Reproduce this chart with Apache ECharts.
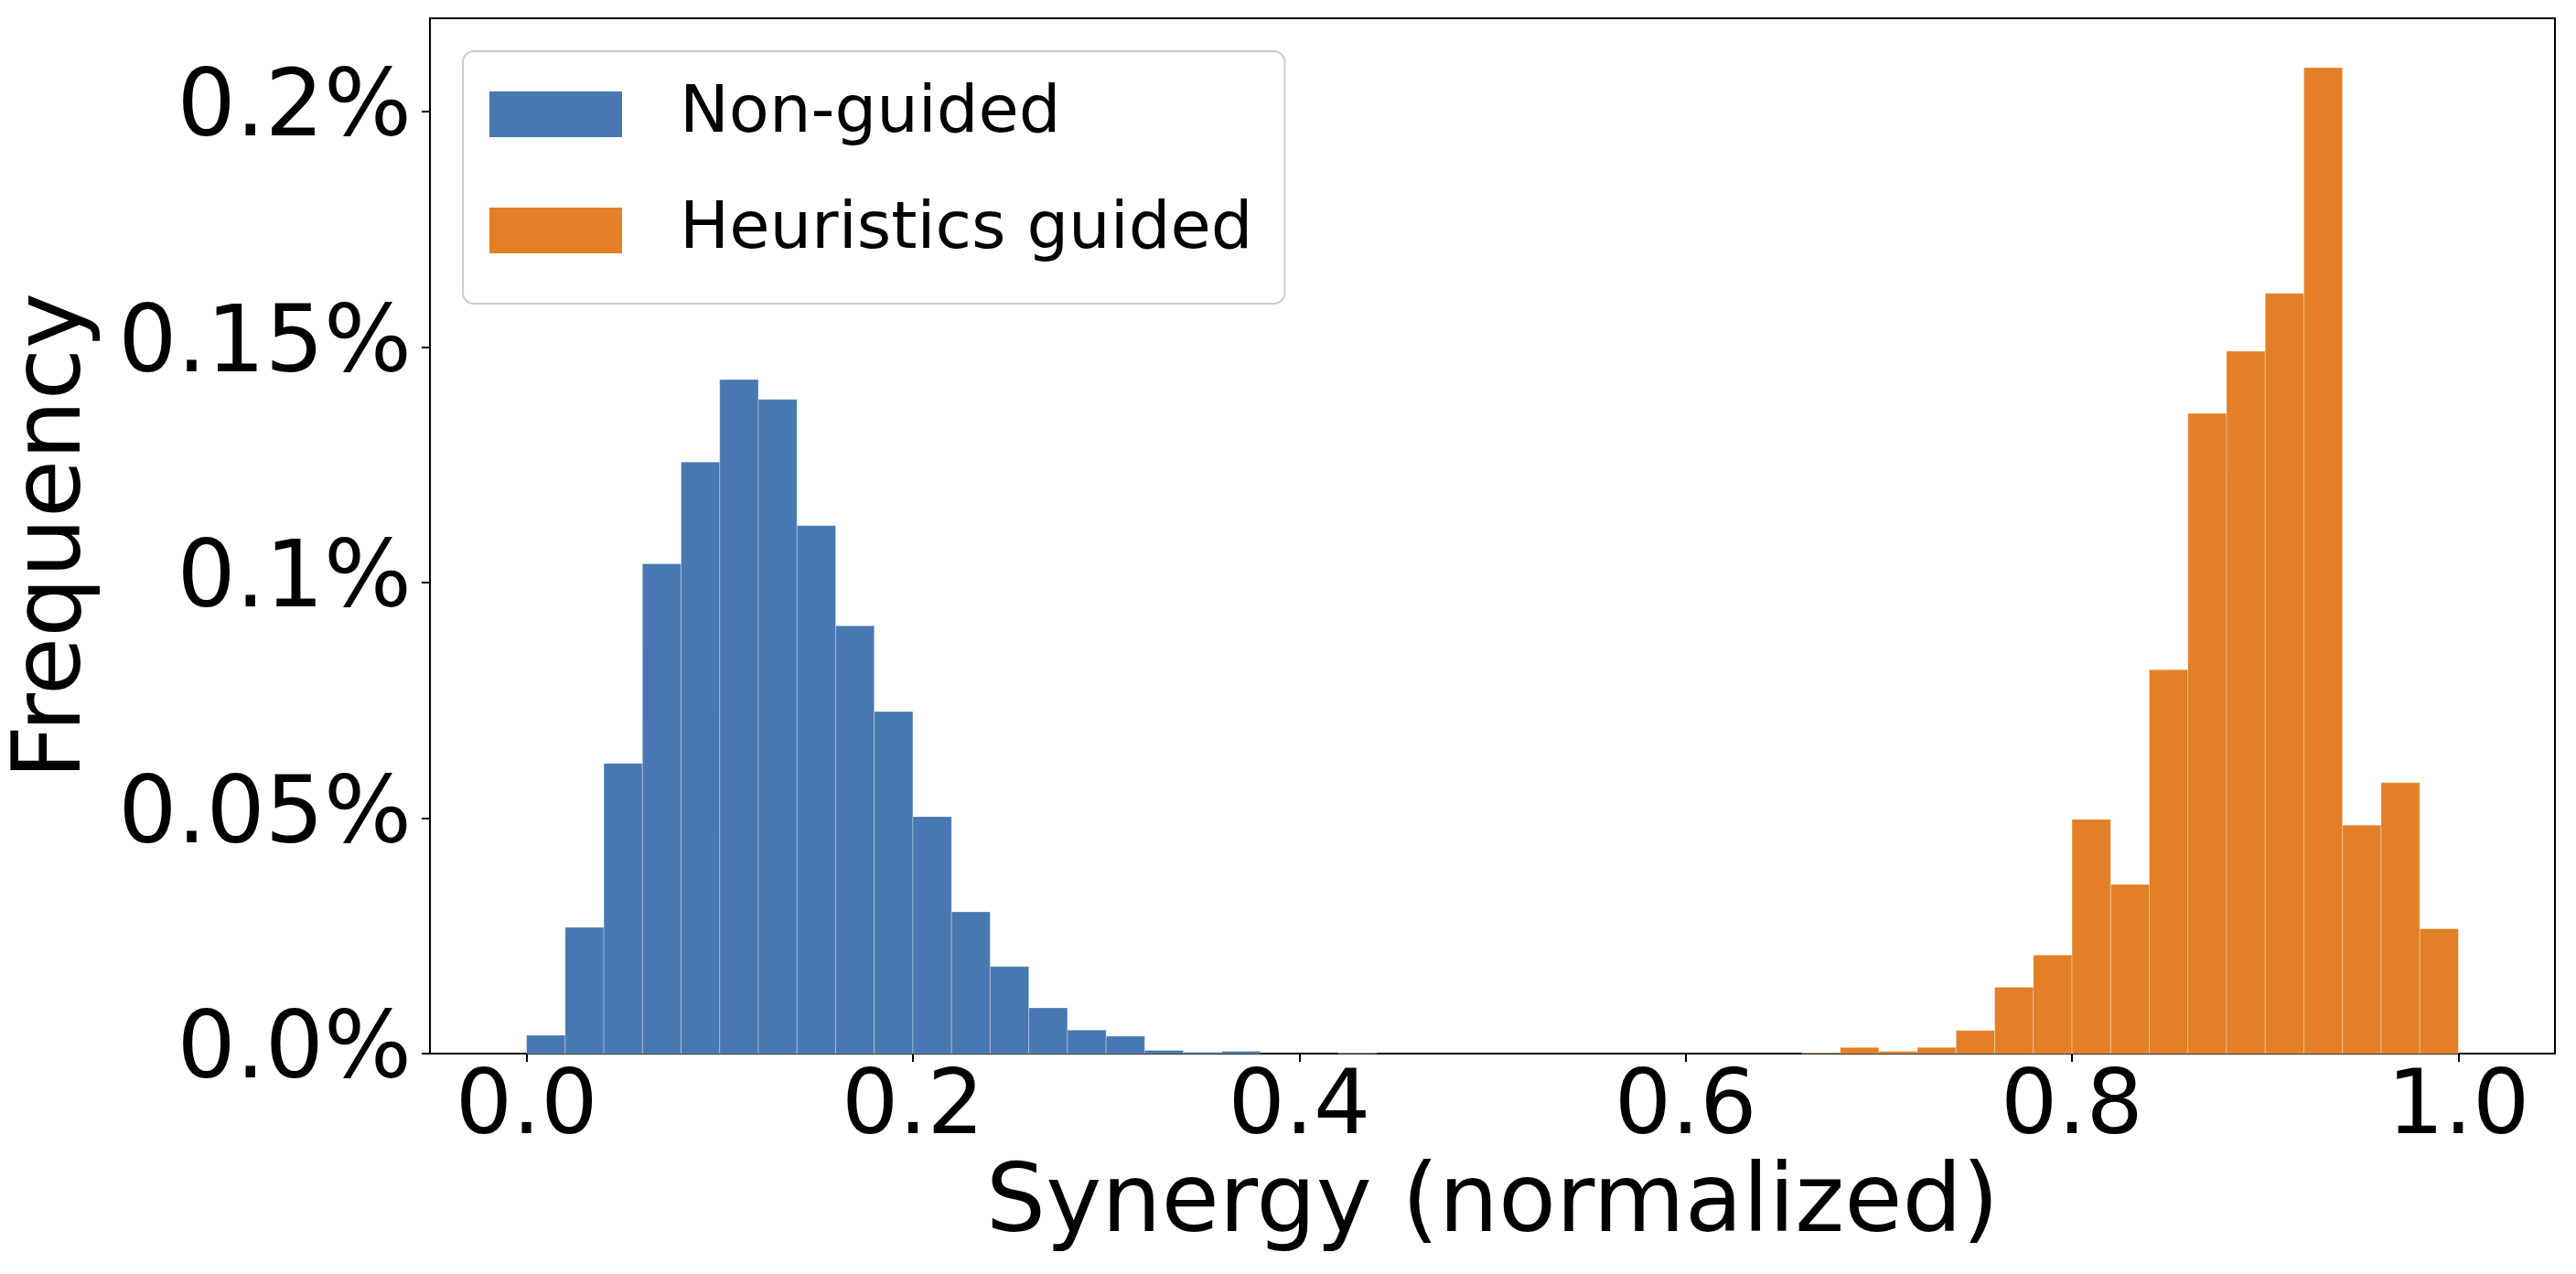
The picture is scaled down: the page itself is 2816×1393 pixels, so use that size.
<!DOCTYPE html>
<html>
<head>
    <meta charset="utf-8">
    <title>Synergy histogram</title>
    <script src="https://cdn.jsdelivr.net/npm/echarts@6/dist/echarts.min.js"></script>
    <style>
        html, body { margin: 0; padding: 0; background: #fff; }
        #main { width: 2816px; height: 1393px; }
    </style>
</head>
<body>
<div id="main"></div>
<script>
    // histogram bins (left edges), width 0.02
    var binWidth = 0.02;
    var binLeft = [
        0.00, 0.02, 0.04, 0.06, 0.08, 0.10, 0.12, 0.14, 0.16, 0.18,
        0.20, 0.22, 0.24, 0.26, 0.28, 0.30, 0.32, 0.34, 0.36, 0.38,
        0.40, 0.42, 0.44, 0.46, 0.48, 0.50, 0.52, 0.54, 0.56, 0.58,
        0.60, 0.62, 0.64, 0.66, 0.68, 0.70, 0.72, 0.74, 0.76, 0.78,
        0.80, 0.82, 0.84, 0.86, 0.88, 0.90, 0.92, 0.94, 0.96, 0.98
    ];

    // frequency in percent, one value per bin
    var nonGuided = [
        0.0039, 0.0268, 0.0616, 0.1040, 0.1256, 0.1431, 0.1389, 0.1121, 0.0908, 0.0726,
        0.0503, 0.0301, 0.0185, 0.0097, 0.0050, 0.0037, 0.0007, 0.0003, 0.0005, 0,
        0, 0.0001, 0, 0, 0, 0, 0, 0, 0, 0,
        0, 0, 0, 0, 0, 0, 0, 0, 0, 0,
        0, 0, 0, 0, 0, 0, 0, 0, 0, 0
    ];
    var heuristicsGuided = [
        0, 0, 0, 0, 0, 0, 0, 0, 0, 0,
        0, 0, 0, 0, 0, 0, 0, 0, 0, 0,
        0, 0, 0, 0, 0, 0, 0, 0, 0, 0,
        0, 0, 0, 0.0001, 0.0013, 0.0005, 0.0013, 0.0049, 0.0141, 0.0209,
        0.0497, 0.0359, 0.0815, 0.1359, 0.1491, 0.1614, 0.2093, 0.0485, 0.0575, 0.0265
    ];

    var xTicks = [0, 0.2, 0.4, 0.6, 0.8, 1.0];
    var xTickLabels = ['0.0', '0.2', '0.4', '0.6', '0.8', '1.0'];
    var yTicks = [0, 0.05, 0.1, 0.15, 0.2];
    var yTickLabels = ['0.0%', '0.05%', '0.1%', '0.15%', '0.2%'];

    var seriesNames = ['Non-guided', 'Heuristics guided'];
    var colors = ['#4878b1', '#e37f26'];

    function toBins(values) {
        var out = [];
        for (var i = 0; i < values.length; i++) {
            if (values[i] > 0) {
                out.push([binLeft[i], binLeft[i] + binWidth, values[i]]);
            }
        }
        return out;
    }

    function pickLabel(ticks, labels, v) {
        for (var i = 0; i < ticks.length; i++) {
            if (Math.abs(ticks[i] - v) < 1e-9) return labels[i];
        }
        return '';
    }

    function histSeries(name, values, color) {
        return {
            name: name,
            type: 'custom',
            data: toBins(values),
            encode: { x: [0, 1], y: 2 },
            itemStyle: { color: color },
            renderItem: function (params, api) {
                var p0 = api.coord([api.value(0), api.value(2)]);
                var p1 = api.coord([api.value(1), 0]);
                return {
                    type: 'rect',
                    shape: { x: p0[0], y: p0[1], width: p1[0] - p0[0], height: p1[1] - p0[1] },
                    style: { fill: color, stroke: 'rgba(255,255,255,0.3)', lineWidth: 1 }
                };
            }
        };
    }

    var chart = echarts.init(document.getElementById('main'), null, { renderer: 'canvas' });
    var font = 'DejaVu Sans';

    var option = {
        backgroundColor: '#fff',
        animation: false,
        textStyle: { fontFamily: font },
        grid: {
            left: 470, right: 23, top: 20, bottom: 241,
            show: true, borderColor: '#000', borderWidth: 2,
            outerBoundsMode: 'none'
        },
        legend: {
            orient: 'vertical',
            left: 506,
            top: 56,
            data: [
                { name: seriesNames[0], icon: 'rect' },
                { name: seriesNames[1], icon: 'rect' }
            ],
            itemWidth: 145,
            itemHeight: 50,
            itemGap: 55,
            padding: [33, 35, 44, 29],
            backgroundColor: 'rgba(255,255,255,0.8)',
            borderColor: '#cccccc',
            borderWidth: 2,
            borderRadius: 12,
            selectedMode: false,
            textStyle: {
                fontFamily: font, fontSize: 72, color: '#000',
                lineHeight: 50, padding: [0, 0, 0, 58]
            }
        },
        xAxis: {
            type: 'value',
            min: -0.05,
            max: 1.05,
            name: 'Synergy (normalized)',
            nameLocation: 'middle',
            nameGap: 114,
            nameTextStyle: { fontFamily: font, fontSize: 103, color: '#000' },
            axisLine: { show: true, onZero: false, lineStyle: { color: '#000', width: 2 } },
            axisTick: { show: true, length: 9, lineStyle: { color: '#000', width: 2 }, customValues: xTicks },
            axisLabel: {
                fontFamily: font, fontSize: 98, color: '#000', margin: 13,
                customValues: xTicks,
                formatter: function (v) { return pickLabel(xTicks, xTickLabels, v); }
            },
            splitLine: { show: false }
        },
        yAxis: {
            type: 'value',
            min: 0,
            max: 0.2198,
            name: 'Frequency',
            nameLocation: 'middle',
            nameGap: 358,
            nameTextStyle: { fontFamily: font, fontSize: 103, color: '#000' },
            axisLine: { show: true, onZero: false, lineStyle: { color: '#000', width: 2 } },
            axisTick: { show: true, length: 9, lineStyle: { color: '#000', width: 2 }, customValues: yTicks },
            axisLabel: {
                fontFamily: font, fontSize: 101, color: '#000', margin: 20,
                customValues: yTicks,
                formatter: function (v) { return pickLabel(yTicks, yTickLabels, v); }
            },
            splitLine: { show: false }
        },
        series: [
            histSeries(seriesNames[0], nonGuided, colors[0]),
            histSeries(seriesNames[1], heuristicsGuided, colors[1])
        ]
    };

    chart.setOption(option);
</script>
</body>
</html>
